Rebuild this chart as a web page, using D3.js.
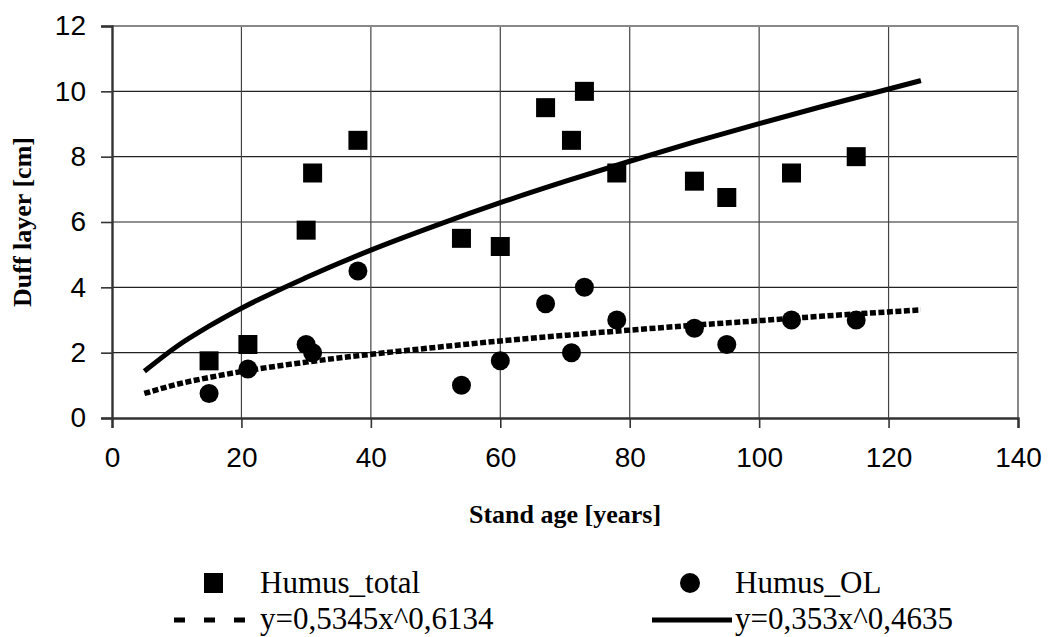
<!DOCTYPE html>
<html>
<head>
<meta charset="utf-8">
<script src="https://cdn.jsdelivr.net/npm/d3@7"></script>
<style>
  html, body { margin: 0; padding: 0; background: #fff; }
  svg { display: block; }
</style>
</head>
<body>
<svg id="chart" width="1049" height="637"></svg>
<script>
// stand age [years] of the sampled plots
var ages = [15, 21, 30, 31, 38, 54, 60, 67, 71, 73, 78, 90, 95, 105, 115];
// duff layer thickness [cm]
var humusTotal = [1.75, 2.25, 5.75, 7.5, 8.5, 5.5, 5.25, 9.5, 8.5, 10, 7.5, 7.25, 6.75, 7.5, 8];
var humusOL = [0.75, 1.5, 2.25, 2, 4.5, 1, 1.75, 3.5, 2, 4, 3, 2.75, 2.25, 3, 3];

// trend curves
var trendX = [5, 10, 15, 20, 30, 40, 50, 60, 70, 80, 90, 100, 110, 125];
var trendSolid = [1.43, 2.19, 2.81, 3.36, 4.30, 5.14, 5.89, 6.59, 7.24, 7.86, 8.45, 9.01, 9.55, 10.33];
var trendDotted = [0.75, 1.03, 1.24, 1.42, 1.71, 1.95, 2.16, 2.36, 2.53, 2.69, 2.84, 2.98, 3.12, 3.31];

var xTicks = [0, 20, 40, 60, 80, 100, 120, 140];
var yTicks = [0, 2, 4, 6, 8, 10, 12];
var legendLabels = ['Humus_total', 'Humus_OL', 'y=0,5345x^0,6134', 'y=0,353x^0,4635'];

var SERIF = "'Liberation Serif', 'Times New Roman', Tinos, serif";
var SANS = "'Liberation Sans', Arial, sans-serif";

var svg = d3.select('#chart');
var pLeft = 112, pRight = 1018, pTop = 26, pBottom = 418;

var x = d3.scaleLinear().domain([0, 140]).range([pLeft, pRight]);
var y = d3.scaleLinear().domain([0, 12]).range([pBottom, pTop]);

// grid
svg.append('g').selectAll('line')
    .data(yTicks.filter(function(d) { return d > 0 && d < 12; }))
    .enter().append('line')
    .attr('x1', pLeft).attr('x2', pRight)
    .attr('y1', function(d) { return y(d); }).attr('y2', function(d) { return y(d); })
    .attr('stroke', '#222').attr('stroke-width', 1.2);

svg.append('g').selectAll('line')
    .data(xTicks.filter(function(d) { return d > 0 && d < 140; }))
    .enter().append('line')
    .attr('x1', function(d) { return x(d); }).attr('x2', function(d) { return x(d); })
    .attr('y1', pTop).attr('y2', pBottom)
    .attr('stroke', '#444').attr('stroke-width', 1.2);

// top / right frame
svg.append('line').attr('x1', pLeft).attr('x2', pRight).attr('y1', pTop).attr('y2', pTop)
    .attr('stroke', '#888').attr('stroke-width', 2);
svg.append('line').attr('x1', pRight).attr('x2', pRight).attr('y1', pTop).attr('y2', pBottom)
    .attr('stroke', '#888').attr('stroke-width', 2);

// axes
var xAxis = d3.axisBottom(x).tickValues(xTicks).tickSize(10).tickPadding(14);
var yAxis = d3.axisLeft(y).tickValues(yTicks).tickSize(11).tickPadding(14);

var gx = svg.append('g').attr('transform', 'translate(0,' + pBottom + ')').call(xAxis);
var gy = svg.append('g').attr('transform', 'translate(' + pLeft + ',0)').call(yAxis);

[gx, gy].forEach(function(g) {
    g.attr('font-family', SANS).attr('font-size', 28);
    g.select('.domain').attr('stroke', '#333').attr('stroke-width', 2.4);
    g.selectAll('.tick line').attr('stroke', '#333').attr('stroke-width', 1.6);
    g.selectAll('.tick text').attr('fill', '#000');
});
gx.selectAll('.tick text').attr('dy', '0.9em');
gy.selectAll('.tick text').attr('x', -26);

// axis titles
svg.append('text')
    .attr('x', (pLeft + pRight) / 2).attr('y', 523)
    .attr('text-anchor', 'middle')
    .attr('font-family', SERIF)
    .attr('font-weight', 'bold').attr('font-size', 26)
    .text('Stand age [years]');

svg.append('text')
    .attr('transform', 'translate(31,' + ((pTop + pBottom) / 2) + ') rotate(-90)')
    .attr('text-anchor', 'middle')
    .attr('font-family', SERIF)
    .attr('font-weight', 'bold').attr('font-size', 26)
    .text('Duff layer [cm]');

// trend lines
var solidPts = trendX.map(function(d, i) { return [d, trendSolid[i]]; });
var dottedPts = trendX.map(function(d, i) { return [d, trendDotted[i]]; });
var line = d3.line()
    .x(function(d) { return x(d[0]); })
    .y(function(d) { return y(d[1]); })
    .curve(d3.curveMonotoneX);

svg.append('path').datum(solidPts).attr('d', line)
    .attr('fill', 'none').attr('stroke', '#000').attr('stroke-width', 5);
svg.append('path').datum(dottedPts).attr('d', line)
    .attr('fill', 'none').attr('stroke', '#000').attr('stroke-width', 5.5)
    .attr('stroke-dasharray', '6,2.5');

// markers
var sq = 19;
svg.append('g').selectAll('rect')
    .data(ages.map(function(d, i) { return [d, humusTotal[i]]; }))
    .enter().append('rect')
    .attr('x', function(d) { return x(d[0]) - sq / 2; })
    .attr('y', function(d) { return y(d[1]) - sq / 2; })
    .attr('width', sq).attr('height', sq)
    .attr('fill', '#000');

svg.append('g').selectAll('circle')
    .data(ages.map(function(d, i) { return [d, humusOL[i]]; }))
    .enter().append('circle')
    .attr('cx', function(d) { return x(d[0]); })
    .attr('cy', function(d) { return y(d[1]); })
    .attr('r', 9.5)
    .attr('fill', '#000');

// legend
var lg = svg.append('g').attr('font-family', SERIF).attr('font-size', 31);

function legendText(tx, ty, label) {
    lg.append('text')
        .attr('x', tx).attr('y', ty)
        .attr('font-family', SERIF)
        .text(label);
}

lg.append('rect').attr('x', 204).attr('y', 573).attr('width', 19).attr('height', 20).attr('fill', '#000');
legendText(260, 593, legendLabels[0]);

lg.append('circle').attr('cx', 690).attr('cy', 583).attr('r', 10).attr('fill', '#000');
legendText(735, 593, legendLabels[1]);

lg.append('line').attr('x1', 174).attr('x2', 247).attr('y1', 620).attr('y2', 620)
    .attr('stroke', '#000').attr('stroke-width', 5).attr('stroke-dasharray', '11,19');
legendText(260, 629, legendLabels[2]);

lg.append('line').attr('x1', 652).attr('x2', 732).attr('y1', 620).attr('y2', 620)
    .attr('stroke', '#000').attr('stroke-width', 5);
legendText(735, 629, legendLabels[3]);
</script>
</body>
</html>
